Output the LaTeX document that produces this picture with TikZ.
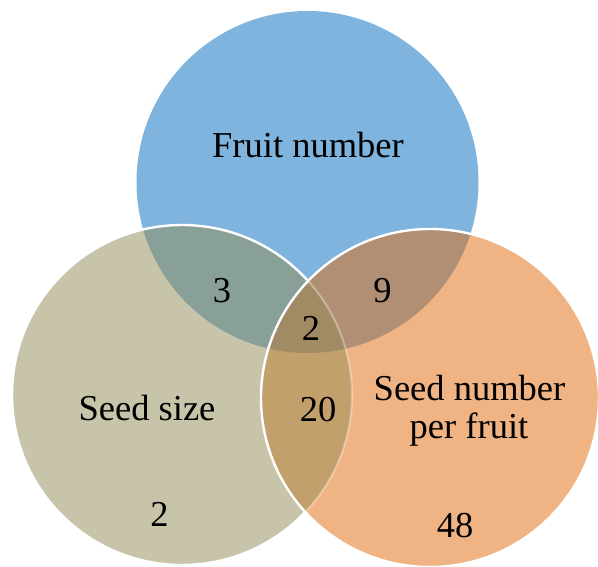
\documentclass[tikz,border=0pt]{standalone}
\usepackage{fontspec}
\setmainfont{Liberation Serif}
\definecolor{cblue}{RGB}{126,180,221}
\definecolor{cbeige}{RGB}{200,196,170}
\definecolor{corange}{RGB}{240,180,132}
\definecolor{cteal}{RGB}{137,160,153}
\definecolor{cbrown}{RGB}{176,143,116}
\definecolor{ctan}{RGB}{194,160,108}
\definecolor{ccenter}{RGB}{161,139,100}
\tikzset{
  lbl/.style={anchor=base, font=\fontsize{36.5}{40}\selectfont, text=black, inner sep=0pt},
  rim/.style={draw=white, line width=2.4pt}
}
\begin{document}
\begin{tikzpicture}[x=1pt,y=-1pt]
\useasboundingbox (0,0) rectangle (598,567);
\def\topc{(307.5,182) circle[radius=171pt]}
\def\leftc{(182,395) circle[radius=170pt]}
\def\rightc{(430,398) circle[radius=169pt]}
% top circle
\fill[cblue] \topc;
% left circle
\fill[cbeige] \leftc;
\begin{scope}
  \clip \topc;
  \fill[cteal] \leftc;
\end{scope}
\draw[rim] \leftc;
% right circle
\fill[corange] \rightc;
\begin{scope}
  \clip \topc;
  \fill[cbrown] \rightc;
\end{scope}
\begin{scope}
  \clip \leftc;
  \fill[ctan] \rightc;
\end{scope}
\begin{scope}
  \clip \topc;
  \clip \leftc;
  \fill[ccenter] \rightc;
\end{scope}
\begin{scope}
  \clip \rightc;
  \draw[draw=white, draw opacity=0.35, line width=2pt] \leftc;
\end{scope}
\draw[rim] \rightc;
% labels
\node[lbl] (fn) at (308,158) {Fruit number};
\node[lbl] (a) at (222,303) {3};
\node[lbl] (b) at (382.5,303) {9};
\node[lbl] (c) at (311,341) {2};
\node[lbl] (ss) at (147,420.6) {Seed size};
\node[lbl] (d) at (318,421) {20};
\node[lbl] (sn1) at (469.5,400.7) {Seed number};
\node[lbl] (sn2) at (469,438.7) {per fruit};
\node[lbl] (e) at (159.5,526) {2};
\node[lbl] (f) at (455,537) {48};
\end{tikzpicture}
\end{document}
